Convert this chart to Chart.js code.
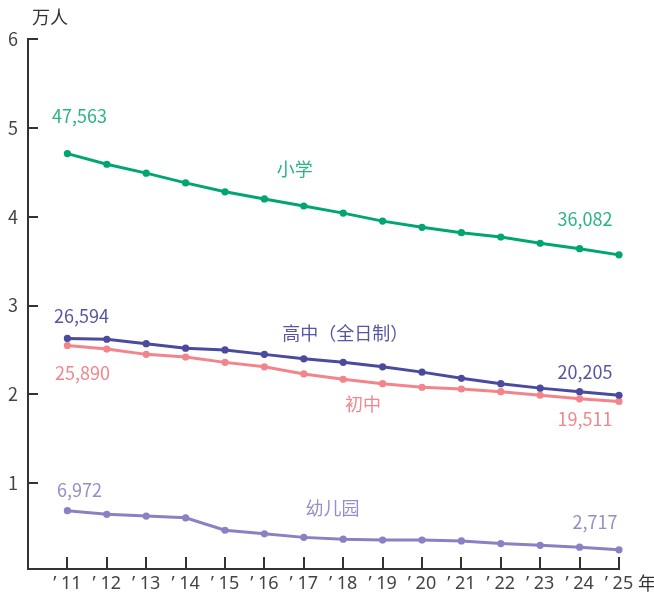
<!DOCTYPE html>
<html lang="zh">
<head>
<meta charset="UTF-8">
<title>在校生人数</title>
<script src="https://cdn.jsdelivr.net/npm/chart.js"></script>
<style>
  html, body { margin: 0; padding: 0; background: #fff; }
  #wrap { width: 654px; height: 596px; }
</style>
</head>
<body>
<div id="wrap"><canvas id="chart"></canvas></div>
<script>
// 年份 ('11 - '25)
const years = [11, 12, 13, 14, 15, 16, 17, 18, 19, 20, 21, 22, 23, 24, 25];

// 各学段在校生 (万人)
const primary = [4.71, 4.59, 4.49, 4.38, 4.28, 4.20, 4.12, 4.04, 3.95, 3.88, 3.82, 3.77, 3.70, 3.64, 3.57];
const senior  = [2.63, 2.62, 2.57, 2.52, 2.50, 2.45, 2.40, 2.36, 2.31, 2.25, 2.18, 2.12, 2.07, 2.03, 1.99];
const junior  = [2.55, 2.51, 2.45, 2.42, 2.36, 2.31, 2.23, 2.17, 2.12, 2.08, 2.06, 2.03, 1.99, 1.95, 1.92];
const kinder  = [0.69, 0.65, 0.63, 0.61, 0.47, 0.43, 0.39, 0.37, 0.36, 0.36, 0.35, 0.32, 0.30, 0.28, 0.25];

const seriesNames = ['小学', '高中（全日制）', '初中', '幼儿园'];
const firstLabels = ['47,563', '26,594', '25,890', '6,972'];
const lastLabels  = ['36,082', '20,205', '19,511', '2,717'];
const yTicks = [1, 2, 3, 4, 5, 6];

const FONT = '"Noto Sans CJK SC", "Noto Sans", sans-serif';
const lineColors = ['#00a671', '#4a4a9e', '#f2858b', '#8a81c4'];
const textColors = ['#2ab487', '#5756a6', '#f1878d', '#968dca'];

// 文字位置 (名称按坐标值, 数值按首尾点偏移)
const namePos = [[16.77, 4.54], [18.05, 2.69], [18.5, 1.89], [17.73, 0.72]];
const firstOff = [[12, -37], [14, -22], [15, 28], [12, -21]];
const lastOff  = [[-34, -36], [-34, -23], [-34, 18], [-24, -28]];

const allValues = [primary, senior, junior, kinder];

const datasets = allValues.map((vals, i) => ({
  label: seriesNames[i],
  data: years.map((yr, j) => ({ x: yr, y: vals[j] })),
  borderColor: lineColors[i],
  backgroundColor: lineColors[i],
  borderWidth: 3,
  pointRadius: 3.6,
  pointBorderWidth: 0,
  pointBackgroundColor: lineColors[i],
  tension: 0,
  clip: false
}));

// 轴内刻度、单位、文字标注
const decorations = {
  id: 'decorations',
  afterDraw(chart) {
    const { ctx, chartArea, scales: { x, y } } = chart;
    ctx.save();
    ctx.strokeStyle = '#333';
    ctx.lineWidth = 2;
    ctx.beginPath();
    yTicks.forEach(v => {
      const py = Math.round(y.getPixelForValue(v));
      ctx.moveTo(chartArea.left, py);
      ctx.lineTo(chartArea.left + 10, py);
    });
    years.forEach(v => {
      const px = Math.round(x.getPixelForValue(v));
      ctx.moveTo(px, chartArea.bottom);
      ctx.lineTo(px, chartArea.bottom - 12);
    });
    ctx.stroke();

    ctx.font = '18px ' + FONT;
    ctx.textAlign = 'center';
    ctx.textBaseline = 'middle';
    ctx.fillStyle = '#333';
    ctx.fillText('万人', chartArea.left + 22, chartArea.top - 22);
    ctx.fillText('年', x.getPixelForValue(years[years.length - 1]) + 28, chartArea.bottom + 14);

    allValues.forEach((vals, i) => {
      ctx.fillStyle = textColors[i];
      ctx.fillText(seriesNames[i], x.getPixelForValue(namePos[i][0]), y.getPixelForValue(namePos[i][1]));
      const x0 = x.getPixelForValue(years[0]);
      const y0 = y.getPixelForValue(vals[0]);
      ctx.fillText(firstLabels[i], x0 + firstOff[i][0], y0 + firstOff[i][1]);
      const n = years.length - 1;
      const x1 = x.getPixelForValue(years[n]);
      const y1 = y.getPixelForValue(vals[n]);
      ctx.fillText(lastLabels[i], x1 + lastOff[i][0], y1 + lastOff[i][1]);
    });
    ctx.restore();
  }
};

new Chart(document.getElementById('chart'), {
  type: 'line',
  data: { datasets },
  plugins: [decorations],
  options: {
    responsive: true,
    maintainAspectRatio: false,
    animation: false,
    layout: { padding: { top: 39, right: 35, bottom: 0, left: 0 } },
    plugins: {
      legend: { display: false },
      tooltip: { enabled: false },
      title: { display: false }
    },
    scales: {
      x: {
        type: 'linear',
        min: 10,
        max: 25,
        afterFit(scale) { scale.height = 27; },
        afterBuildTicks(scale) { scale.ticks = years.map(v => ({ value: v })); },
        grid: { display: true, drawOnChartArea: false, drawTicks: false },
        border: { color: '#333', width: 2 },
        ticks: {
          autoSkip: false,
          maxRotation: 0,
          padding: 4,
          color: '#444',
          font: { family: '"Noto Sans", sans-serif', size: 18 },
          callback: v => '’ ' + v
        }
      },
      y: {
        min: 0.034,
        max: 6,
        afterFit(scale) { scale.width = 28; },
        afterBuildTicks(scale) { scale.ticks = yTicks.map(v => ({ value: v })); },
        grid: { display: true, drawOnChartArea: false, drawTicks: false },
        border: { color: '#333', width: 2 },
        ticks: {
          padding: 10,
          color: '#444',
          font: { family: FONT, size: 18 },
          callback: v => String(v)
        }
      }
    }
  }
});
</script>
</body>
</html>
